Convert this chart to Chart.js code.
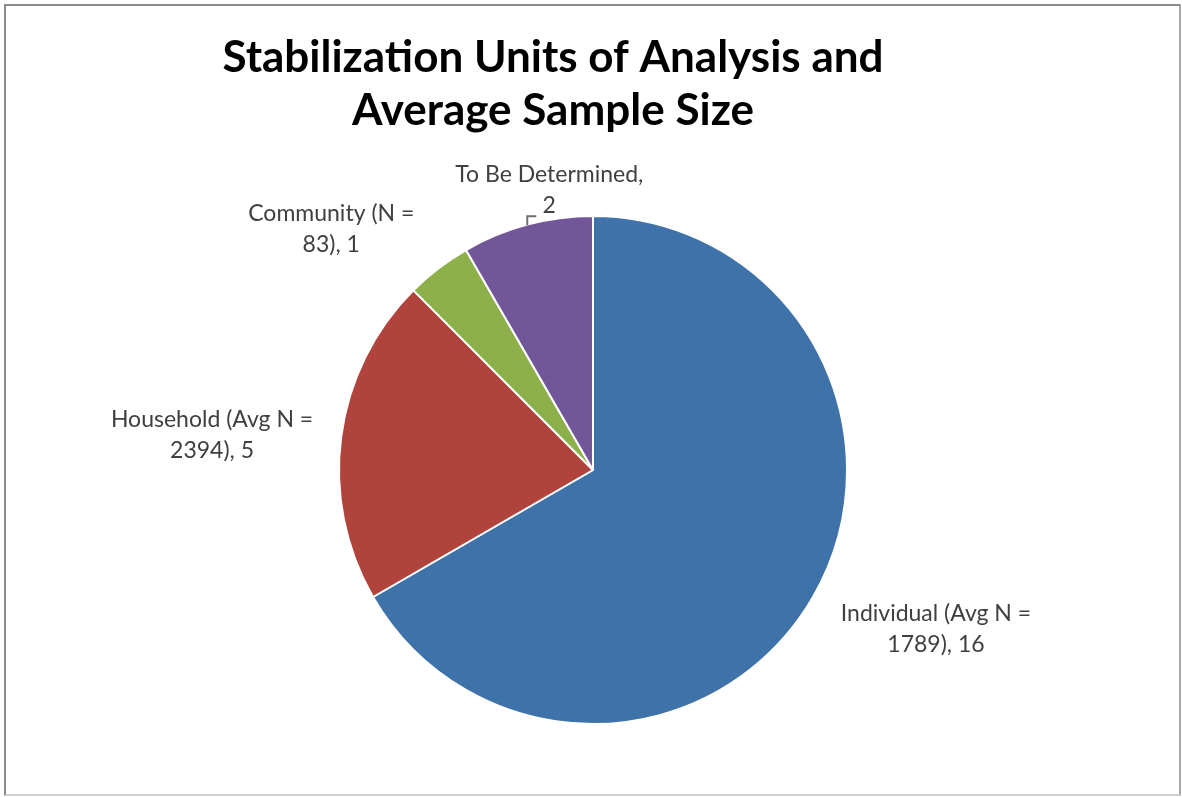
<!DOCTYPE html>
<html>
<head>
<meta charset="utf-8">
<title>Stabilization Units of Analysis</title>
<script src="https://cdn.jsdelivr.net/npm/chart.js@4.4.1/dist/chart.umd.min.js"></script>
<style>
  html, body { margin: 0; padding: 0; background: #fff; }
  #wrap { position: relative; width: 1182px; height: 797px; overflow: hidden; }
  #frame {
    position: absolute; left: 4px; top: 4px; width: 1173px; height: 788px;
    border-left: 2px solid #8a8a8a; border-top: 2px solid #8a8a8a;
    border-right: 2px solid #a8a8a8; border-bottom: 2px solid #cfcfcf;
    pointer-events: none;
  }
  #grafico { position: absolute; left: 0; top: 0; }
</style>
</head>
<body>
<div id="wrap">
  <canvas id="grafico" width="1182" height="797"></canvas>
  <div id="frame"></div>
</div>
<script>
// dados do gráfico
const unidades = ["Individual", "Household", "Community", "To Be Determined"];
const rotuloN = ["Avg N", "Avg N", "N", null];
const tamanhoMedio = [1789, 2394, 83, null];
const estudos = [16, 5, 1, 2];
const cores = ["#3e72a9", "#b0433b", "#8db04b", "#72569a"];
const titulo = ["Stabilization Units of Analysis and", "Average Sample Size"];

// texto de cada rótulo em duas linhas
function linhasRotulo(i) {
  if (tamanhoMedio[i] === null) {
    return [unidades[i] + ",", String(estudos[i])];
  }
  return [
    `${unidades[i]} (${rotuloN[i]} =`,
    `${tamanhoMedio[i]}), ${estudos[i]}`
  ];
}

// ajustes de posição dos rótulos (em relação ao raio médio da fatia)
const ajusteRotulo = [
  { dx: 46, dy: -12 },
  { dx: -41, dy: 10 },
  { dx: -53, dy: 31 },
  { dx: 45, dy: 51, guia: true }
];

const pluginTitulo = {
  id: "tituloCentral",
  afterDraw(chart) {
    const ctx = chart.ctx;
    ctx.save();
    ctx.fillStyle = "#000";
    ctx.font = "bold 44px Lato, 'Open Sans', sans-serif";
    ctx.textAlign = "center";
    ctx.textBaseline = "middle";
    ctx.fillText(titulo[0], 553, 58);
    ctx.fillText(titulo[1], 553, 111);
    ctx.restore();
  }
};

const pluginRotulos = {
  id: "rotulosFatias",
  afterDatasetsDraw(chart) {
    const ctx = chart.ctx;
    const meta = chart.getDatasetMeta(0);
    ctx.save();
    ctx.font = "23px Lato, 'Open Sans', sans-serif";
    ctx.fillStyle = "#404040";
    ctx.textAlign = "center";
    ctx.textBaseline = "middle";
    const alturaLinha = 31;
    meta.data.forEach((arc, i) => {
      const p = arc.getProps(["x", "y", "startAngle", "endAngle", "outerRadius"], true);
      const meio = (p.startAngle + p.endAngle) / 2;
      const dist = p.outerRadius * 1.35;
      const aj = ajusteRotulo[i];
      const cx = p.x + Math.cos(meio) * dist + aj.dx;
      const cy = p.y + Math.sin(meio) * dist + aj.dy;
      const linhas = linhasRotulo(i);
      const y1 = cy - alturaLinha / 2;
      const y2 = cy + alturaLinha / 2;
      ctx.fillText(linhas[0], cx, y1);
      ctx.fillText(linhas[1], cx, y2);
      if (aj.guia) {
        // linha guia até a fatia
        ctx.strokeStyle = "#6f6f6f";
        ctx.lineWidth = 2;
        ctx.beginPath();
        ctx.moveTo(cx - 13, y2 + 11);
        ctx.lineTo(cx - 22, y2 + 11);
        ctx.lineTo(cx - 22, y2 + 20);
        ctx.stroke();
      }
    });
    ctx.restore();
  }
};

new Chart(document.getElementById("grafico"), {
  type: "pie",
  data: {
    labels: unidades,
    datasets: [{
      data: estudos,
      backgroundColor: cores,
      borderColor: "#ffffff",
      borderWidth: 2
    }]
  },
  options: {
    responsive: false,
    animation: false,
    layout: { padding: { top: 215, left: 338, right: 334, bottom: 72 } },
    plugins: {
      legend: { display: false },
      tooltip: { enabled: false },
      title: { display: false }
    }
  },
  plugins: [pluginTitulo, pluginRotulos]
});
</script>
</body>
</html>
